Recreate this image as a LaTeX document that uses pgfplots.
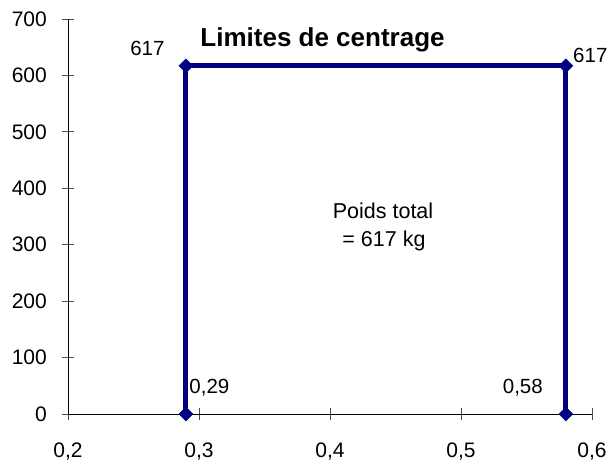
\documentclass[border=0pt]{standalone}
\usepackage{fontspec}
\setmainfont{Liberation Sans}
\usepackage{pgfplots}
\pgfplotsset{compat=1.18}
\definecolor{navyline}{HTML}{000080}
\begin{document}
\fontsize{20.5bp}{24bp}\selectfont
\begin{tikzpicture}
\path[use as bounding box] (0,0) rectangle (609bp,461bp);
\begin{axis}[
  scale only axis,
  width=524bp, height=395bp,
  at={(68bp,47bp)}, anchor=south west,
  xmin=0.2, xmax=0.6, ymin=0, ymax=700,
  axis lines=left,
  axis line style={-, black, line width=0.8bp},
  xtick={0.2,0.3,0.4,0.5,0.6},
  xticklabels={{0,2},{0,3},{0,4},{0,5},{0,6}},
  ytick={0,100,200,300,400,500,600,700},
  tick align=center,
  major tick length=12bp,
  tick style={black!70, line width=0.8bp},
  /pgf/number format/assume math mode=true,
  ticklabel style={font=\fontsize{21bp}{24bp}\selectfont, inner sep=1bp},
  xticklabel style={yshift=-22bp},
  yticklabel style={xshift=-14bp},
  clip=false,
]
\addplot[color=navyline, line width=5bp, mark=square*, mark size=4.9bp,
  mark options={rotate=45, line width=0.5bp}]
  coordinates {(0.29,0) (0.29,617) (0.58,617) (0.58,0)};
\node[anchor=center, xshift=-38.5bp, yshift=17bp] at (axis cs:0.29,617) {617};
\node[anchor=center, xshift=24.5bp, yshift=10.5bp] at (axis cs:0.58,617) {617};
\node[anchor=center, xshift=23.5bp, yshift=26.5bp] at (axis cs:0.29,0) {0,29};
\node[anchor=center, xshift=-43bp, yshift=26.5bp] at (axis cs:0.58,0) {0,58};
\node[anchor=base, font=\fontsize{26bp}{29bp}\selectfont\bfseries] at (axis cs:0.3943,651) {Limites de centrage};
\node[anchor=base, font=\fontsize{21.5bp}{25bp}\selectfont] at (axis cs:0.4405,345.6) {Poids total};
\node[anchor=base, font=\fontsize{21.5bp}{25bp}\selectfont] at (axis cs:0.4412,296) {= 617 kg};
\end{axis}
\end{tikzpicture}
\end{document}
